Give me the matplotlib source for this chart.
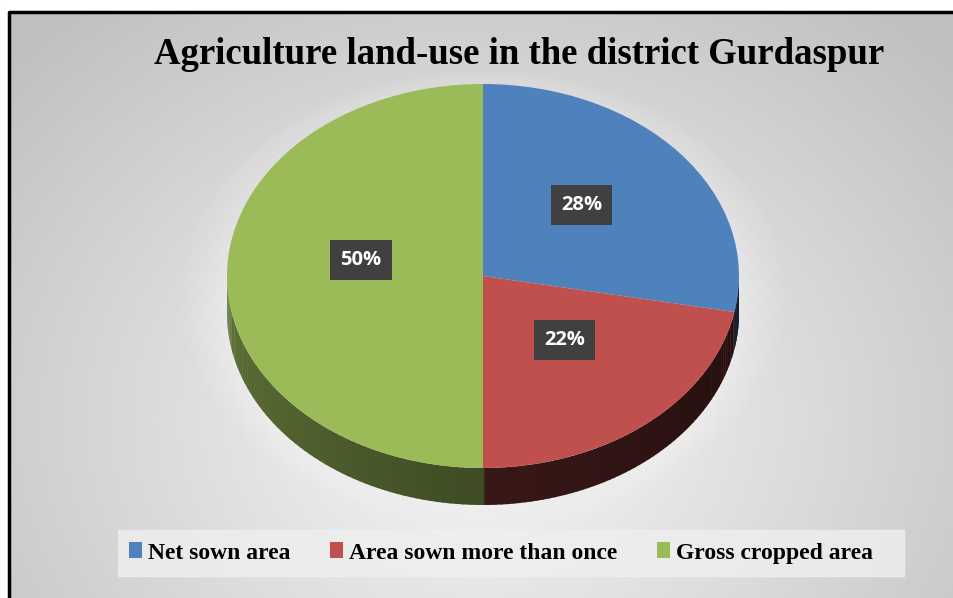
import numpy as np
import matplotlib.pyplot as plt
import matplotlib.colors as mcolors
from matplotlib.patches import Polygon, Rectangle
from matplotlib import transforms

title = "Agriculture land-use in the district Gurdaspur"
labels = ["Net sown area", "Area sown more than once", "Gross cropped area"]
shares = [28, 22, 50]
colors = ["#4f81bd", "#c0504d", "#9bbb59"]

W, H = 954, 598
fig = plt.figure(figsize=(W / 100, H / 100), dpi=100)

# background: radial grey gradient inside a black frame
bg = fig.add_axes([0, 0, 1, 1])
bg.set_xlim(0, W)
bg.set_ylim(H, 0)
bg.axis("off")
yy, xx = np.mgrid[0:H, 0:W]
r = np.sqrt(((xx - 480) / 620) ** 2 + ((yy - 420) / 520) ** 2)
grad = np.clip(0.97 - 0.21 * r, 0.75, 0.97)
bg.imshow(np.dstack([grad] * 3), extent=(0, W, H, 0), zorder=0)
bg.add_patch(Rectangle((0, 0), W, 12, color="white", zorder=1))
bg.add_patch(Rectangle((0, 0), 8, H, color="white", zorder=1))
bg.plot([9, 9, W], [H, 12, 12], color="black", lw=2.5, zorder=2)
bg.add_patch(Rectangle((118, 530), 786, 46, color="#efefef", alpha=0.8, zorder=1))
bg.text(519, 55, title, ha="center", va="center", fontsize=26.5,
        fontweight="bold", family="Liberation Serif", zorder=3)

# pie axes: unit circle squashed into the ellipse of the top face
cx, cy, rx, ry, depth = 483, 276, 256, 192, 37
d = depth / ry
ax = fig.add_axes([(cx - rx) / W, (H - (cy + ry + depth)) / H,
                   2 * rx / W, (2 * ry + depth) / H])
ax.patch.set_visible(False)

# soft glow under the pie
t = np.linspace(0, 2 * np.pi, 200)
for k in range(10):
    s = 1.0 + 0.02 * k
    ax.fill(s * np.cos(t), s * np.sin(t) * 1.0 - d * 0.6,
            color="white", alpha=0.05, lw=0, zorder=0, clip_on=False)

# side walls of the front half
start = 90
edges = start - np.cumsum([0] + shares) * 3.6
side_dark = {0: 0.45, 1: 0.42, 2: 0.62}
for i, c in enumerate(colors):
    a0, a1 = edges[i + 1] % 360, edges[i] % 360
    if a1 <= a0:
        a1 += 360
    lo, hi = max(a0, 180), min(a1, 360)
    if i == 2:
        lo, hi = 180, 270
    if hi <= lo:
        continue
    base = np.array(mcolors.to_rgb(c))
    steps = np.linspace(lo, hi, 60)
    for ta, tb in zip(steps[:-1], steps[1:]):
        f = side_dark[i] - 0.25 * (ta - 180) / 180
        if i == 2:
            f = 0.62 - 0.22 * (ta - 180) / 90
        tt = np.radians(np.linspace(ta, tb + 0.3, 4))
        px = np.r_[np.cos(tt), np.cos(tt[::-1])]
        py = np.r_[np.sin(tt), np.sin(tt[::-1]) - d]
        ax.add_patch(Polygon(np.c_[px, py], closed=True, lw=0,
                             color=np.clip(base * f, 0, 1), zorder=1))

wedges, _, autotexts = ax.pie(
    shares, colors=colors, startangle=start, counterclock=False,
    autopct="%d%%", pctdistance=0.5,
    wedgeprops=dict(linewidth=0, zorder=2),
    textprops=dict(color="white", fontsize=14.5, fontweight="bold",
                   family="Open Sans"))
for w in wedges:
    w.set_zorder(2)
for tx in autotexts:
    tx.set_transform(transforms.offset_copy(tx.get_transform(), fig=fig, x=0, y=10, units="dots"))
    tx.set_bbox(dict(boxstyle="square,pad=0.5", facecolor="#404040", edgecolor="none"))
    tx.set_zorder(5)
autotexts[2].set_transform(transforms.offset_copy(autotexts[2].get_transform(), fig=fig, x=6, y=6, units="dots"))

ax.set_aspect("auto")
ax.set_xlim(-1, 1)
ax.set_ylim(-1 - d, 1)
ax.axis("off")

fig.legend(wedges, labels, loc="center", bbox_to_anchor=(501 / W, 1 - 553 / H),
           ncol=3, frameon=False, handlelength=0.55, handleheight=0.65,
           handletextpad=0.25, columnspacing=1.7,
           prop=dict(family="Liberation Serif", weight="bold", size=17))

fig.savefig("out.png", dpi=100)
